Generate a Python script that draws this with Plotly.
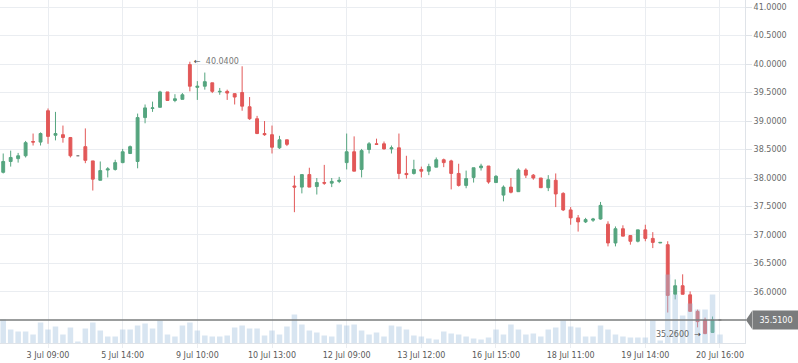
import plotly.graph_objects as go

# ---- data ----
tick_index = [6, 16, 26, 36, 46, 56, 66, 76, 86, 96]
tick_labels = ["3 Jul 09:00", "5 Jul 14:00", "9 Jul 10:00", "10 Jul 13:00", "12 Jul 09:00",
               "13 Jul 12:00", "16 Jul 15:00", "18 Jul 11:00", "19 Jul 14:00", "20 Jul 16:00"]
price_ticks = [36.0, 36.5, 37.0, 37.5, 38.0, 38.5, 39.0, 39.5, 40.0, 40.5, 41.0]

opens = [38.10, 38.29, 38.34, 38.39, 38.64, 38.63, 39.18, 38.75, 38.76, 38.71,
         38.39, 38.55, 38.30, 37.96, 38.14, 38.15, 38.27, 38.43, 38.29, 39.06,
         39.22, 39.24, 39.51, 39.36, 39.38, 39.99, 39.59, 39.61, 39.67, 39.51,
         39.52, 39.48, 39.50, 39.25, 39.04, 38.78, 38.76, 38.53, 38.67, 37.86,
         37.84, 38.06, 37.85, 37.92, 37.91, 37.94, 38.27, 38.46, 38.15, 38.50,
         38.60, 38.60, 38.51, 38.53, 38.08, 38.08, 38.15, 38.12, 38.19, 38.32,
         38.30, 38.08, 37.87, 38.01, 38.18, 38.21, 37.92, 37.70, 37.84, 37.76,
         38.14, 38.05, 38.00, 37.83, 37.96, 37.73, 37.44, 37.30, 37.23, 37.26,
         37.28, 37.19, 36.86, 37.11, 36.99, 36.89, 37.09, 36.94, 36.86, 36.83,
         35.96, 36.11, 35.95, 35.66, 35.51, 35.29, 35.51]
highs = [38.43, 38.48, 38.44, 38.65, 38.78, 38.80, 39.22, 39.16, 38.92, 38.72,
         38.39, 38.87, 38.30, 38.29, 38.19, 38.32, 38.51, 38.57, 39.13, 39.29,
         39.34, 39.53, 39.51, 39.47, 39.49, 40.04, 39.70, 39.85, 39.67, 39.58,
         39.55, 39.48, 39.96, 39.42, 39.09, 39.00, 38.92, 38.74, 38.67, 38.04,
         38.06, 38.18, 38.00, 38.23, 38.00, 38.02, 38.78, 38.73, 38.51, 38.63,
         38.69, 38.64, 38.57, 38.78, 38.39, 38.32, 38.20, 38.25, 38.36, 38.34,
         38.32, 38.25, 38.13, 38.18, 38.25, 38.21, 38.05, 37.87, 38.00, 38.17,
         38.17, 38.07, 38.00, 38.05, 38.08, 37.75, 37.49, 37.35, 37.30, 37.30,
         37.58, 37.24, 37.15, 37.17, 36.99, 37.09, 37.18, 37.05, 36.87, 36.89,
         36.22, 36.31, 36.01, 35.69, 35.55, 35.57, 35.51]
lows = [38.08, 38.20, 38.27, 38.36, 38.57, 38.57, 38.60, 38.66, 38.62, 38.36,
        38.39, 38.26, 37.78, 37.96, 38.01, 38.13, 38.26, 38.42, 38.17, 38.96,
        39.16, 39.24, 39.36, 39.33, 39.38, 39.52, 39.37, 39.55, 39.49, 39.46,
        39.37, 39.29, 39.18, 39.02, 38.77, 38.74, 38.43, 38.51, 38.56, 37.40,
        37.73, 37.84, 37.71, 37.88, 37.84, 37.91, 38.15, 38.12, 38.01, 38.43,
        38.59, 38.50, 38.43, 37.98, 37.99, 38.06, 38.01, 38.05, 38.19, 38.19,
        37.80, 37.85, 37.82, 37.92, 38.13, 37.90, 37.92, 37.59, 37.73, 37.76,
        38.00, 37.97, 37.83, 37.77, 37.49, 37.42, 37.18, 37.06, 37.21, 37.23,
        37.27, 36.80, 36.80, 36.98, 36.83, 36.87, 36.89, 36.77, 36.86, 35.64,
        35.87, 35.96, 35.66, 35.38, 35.26, 35.28, 35.51]
closes = [38.29, 38.36, 38.39, 38.62, 38.63, 38.78, 38.73, 38.78, 38.71, 38.39,
          38.39, 38.31, 37.98, 38.13, 38.16, 38.27, 38.46, 38.55, 39.06, 39.23,
          39.23, 39.51, 39.36, 39.39, 39.46, 39.61, 39.61, 39.69, 39.52, 39.52,
          39.49, 39.42, 39.26, 39.04, 38.78, 38.76, 38.54, 38.67, 38.59, 37.84,
          38.06, 37.84, 37.92, 37.91, 37.94, 37.96, 38.46, 38.12, 38.48, 38.60,
          38.59, 38.51, 38.53, 38.08, 38.06, 38.15, 38.12, 38.20, 38.32, 38.27,
          38.08, 37.87, 37.99, 38.18, 38.21, 37.93, 38.03, 37.84, 37.75, 38.14,
          38.05, 38.00, 37.83, 37.97, 37.72, 37.44, 37.30, 37.23, 37.27, 37.28,
          37.52, 36.86, 37.11, 36.98, 36.89, 37.09, 36.94, 36.87, 36.87, 35.94,
          36.11, 35.96, 35.66, 35.48, 35.27, 35.51, 35.51]
volumes = [23500, 13500, 11500, 11500, 8500, 20500, 13500, 16500, 8500, 15500,
           1500, 14500, 20500, 12500, 6500, 6500, 13500, 13500, 17500, 19500,
           14500, 22500, 8500, 6500, 17500, 20500, 12500, 7500, 6500, 6500,
           7500, 15500, 17500, 14500, 14500, 7500, 12500, 8500, 16500, 28500,
           18500, 12500, 10500, 7500, 6500, 18500, 17500, 18500, 12500, 8500,
           10500, 6500, 17500, 16500, 13500, 7500, 6500, 4500, 3500, 11500,
           9500, 8500, 6500, 4500, 3500, 5500, 13500, 8500, 18500, 13500,
           8500, 9500, 6500, 13500, 15500, 22500, 16500, 15500, 6500, 6500,
           17500, 13500, 8500, 6500, 5500, 5500, 5500, 22500, 2500, 68500,
           48500, 27500, 39500, 33500, 33500, 48500, 8500]

max_price, max_idx = 40.04, 25
min_price, min_idx = 35.26, 94
last_price = 35.51

# ---- styling ----
GREEN = "#55a57f"
RED = "#e25858"
FLAT = "#8a8a8a"
GRID = "#eaedf1"
TXT = "#6a6a6a"
FONT = "DejaVu Sans"
VOL_AXIS_MAX = 343000

idx = list(range(len(opens)))
moving = [i for i in idx if opens[i] != closes[i]]
flat = [i for i in idx if opens[i] == closes[i]]

fig = go.Figure()
fig.add_trace(go.Candlestick(
    x=moving,
    open=[opens[i] for i in moving], high=[highs[i] for i in moving],
    low=[lows[i] for i in moving], close=[closes[i] for i in moving],
    increasing=dict(line=dict(color=GREEN, width=1), fillcolor=GREEN),
    decreasing=dict(line=dict(color=RED, width=1), fillcolor=RED),
    hoverinfo="skip", showlegend=False,
))
fig.add_trace(go.Candlestick(
    x=flat,
    open=[opens[i] for i in flat], high=[highs[i] for i in flat],
    low=[lows[i] for i in flat], close=[closes[i] for i in flat],
    increasing=dict(line=dict(color=FLAT, width=1.5), fillcolor=FLAT),
    decreasing=dict(line=dict(color=FLAT, width=1.5), fillcolor=FLAT),
    hoverinfo="skip", showlegend=False,
))
fig.add_trace(go.Bar(
    x=idx, y=volumes, yaxis="y2",
    marker=dict(color="rgba(163,192,221,0.42)", line=dict(width=0)),
    hoverinfo="skip", showlegend=False,
))

fig.add_shape(type="line", xref="paper", yref="y", x0=0, x1=1.0015,
              y0=last_price, y1=last_price, line=dict(color="#7a7c7d", width=1.5))
fig.add_shape(type="path", xref="paper", yref="y", fillcolor="#7a7c7d", line=dict(width=0),
              path=f"M 1.0013 {last_price} L 1.0096 {last_price + 0.16} L 1.0096 {last_price - 0.16} Z")

fig.add_annotation(xref="paper", yref="y", x=1.0094, y=last_price, xanchor="left", yanchor="middle",
                   text=f"{last_price:.4f}", showarrow=False, bgcolor="#7a7c7d",
                   width=42, height=14, borderpad=2, align="center",
                   font=dict(family=FONT, size=8, color="white"))
fig.add_annotation(x=max_idx, y=max_price, xanchor="left", yanchor="middle", xshift=2,
                   text=f"<span style='color:#444'>\u2190</span>  {max_price:.4f}",
                   showarrow=False, font=dict(family=FONT, size=8, color="#777"))
fig.add_annotation(x=min_idx, y=min_price, xanchor="right", yanchor="middle", xshift=-2,
                   text=f"{min_price:.4f}  <span style='color:#444'>\u2192</span>",
                   showarrow=False, font=dict(family=FONT, size=8, color="#666"))

fig.update_layout(
    width=798, height=363,
    margin=dict(l=0, r=53, t=0, b=20),
    paper_bgcolor="white", plot_bgcolor="white",
    boxgap=0.45, bargap=0.26,
    showlegend=False, hovermode=False,
    font=dict(family=FONT, size=8, color=TXT),
    xaxis=dict(
        range=[-0.43, 99.35], tickvals=tick_index, ticktext=tick_labels,
        showgrid=True, gridcolor=GRID, gridwidth=1,
        ticks="outside", ticklen=4, tickcolor=GRID,
        showline=True, linecolor="#dfe3e8", zeroline=False,
        rangeslider=dict(visible=False), fixedrange=True,
        tickfont=dict(family=FONT, size=8, color="#5a5a5a"),
    ),
    yaxis=dict(
        side="right", range=[35.105, 41.123], tickvals=price_ticks, tickformat=".4f",
        showgrid=True, gridcolor=GRID, gridwidth=1,
        ticks="outside", ticklen=6, tickcolor="#dfe3e8",
        showline=True, linecolor="#dfe3e8", zeroline=False, fixedrange=True,
        tickfont=dict(family=FONT, size=8, color=TXT),
    ),
    yaxis2=dict(overlaying="y", range=[0, VOL_AXIS_MAX], visible=False,
                showgrid=False, fixedrange=True),
)

fig.write_html("out.html", config={"displayModeBar": False},
               post_script="document.body.style.margin='0px';document.body.style.overflow='hidden';")
